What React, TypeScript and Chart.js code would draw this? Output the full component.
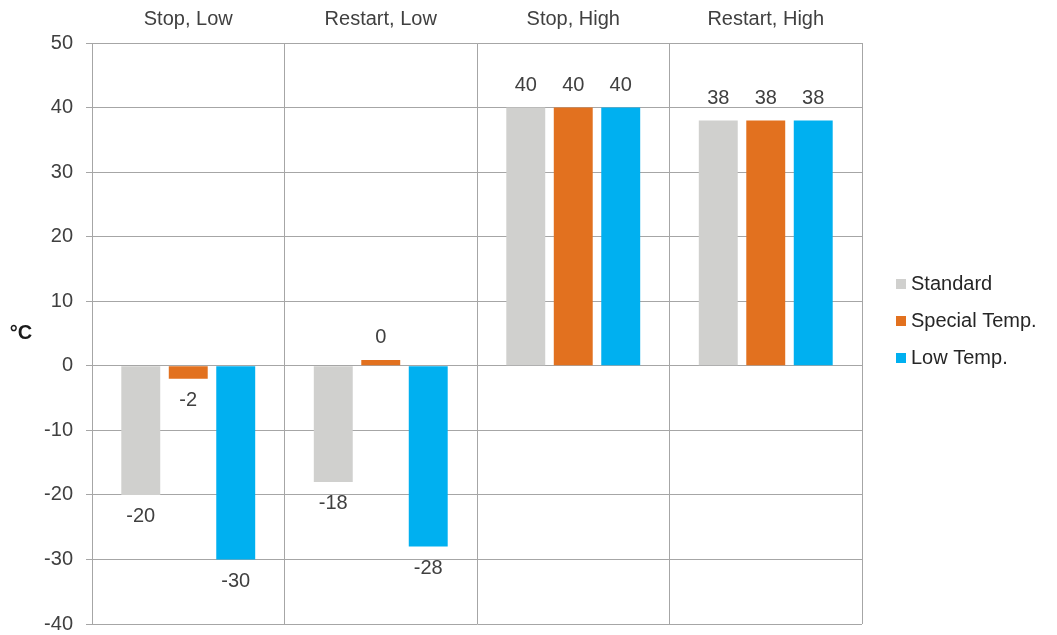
import React, { useEffect, useRef } from 'react';
import { Chart, registerables } from 'chart.js';

Chart.register(...registerables);

const categories = ['Stop, Low', 'Restart, Low', 'Stop, High', 'Restart, High'];
const seriesNames = ['Standard', 'Special Temp.', 'Low Temp.'];
const standardValues = [-20, -18, 40, 38];
const specialValues = [-2, 0.9, 40, 38];
const lowValues = [-30, -28, 40, 38];
const standardLabels = ['-20', '-18', '40', '38'];
const specialLabels = ['-2', '0', '40', '38'];
const lowLabels = ['-30', '-28', '40', '38'];
const yMin = -40;
const yMax = 50;
const yStep = 10;
const yTitle = '°C';
const seriesColors = ['#D0D0CE', '#E2711F', '#00B0F0'];

const FONT = "'Liberation Sans', Arial, sans-serif";
const TEXT = '#404040';
const GRID = '#A6A6A6';

const valueLabelPlugin = {
  id: 'valueLabels',
  afterDatasetsDraw(chart: any) {
    const ctx = chart.ctx;
    ctx.save();
    ctx.font = `20px ${FONT}`;
    ctx.fillStyle = TEXT;
    ctx.textAlign = 'center';
    ctx.textBaseline = 'middle';
    chart.data.datasets.forEach((ds: any, di: number) => {
      const meta = chart.getDatasetMeta(di);
      meta.data.forEach((el: any, i: number) => {
        const v = ds.data[i];
        const y = v >= 0 ? el.y - 22 : el.y + 22;
        ctx.fillText(ds.valueLabels[i], el.x, y);
      });
    });
    ctx.restore();
  },
};

const sideLegendPlugin = {
  id: 'sideLegend',
  afterDraw(chart: any) {
    const ctx = chart.ctx;
    ctx.save();
    ctx.font = `20px ${FONT}`;
    ctx.textAlign = 'left';
    ctx.textBaseline = 'middle';
    chart.data.datasets.forEach((ds: any, i: number) => {
      const cy = 284 + i * 37;
      ctx.fillStyle = ds.backgroundColor;
      ctx.fillRect(896, cy - 5, 10, 10);
      ctx.fillStyle = '#262626';
      ctx.fillText(ds.label, 911, cy);
    });
    const area = chart.chartArea;
    ctx.font = `bold 20px ${FONT}`;
    ctx.fillStyle = '#1a1a1a';
    ctx.textAlign = 'center';
    ctx.fillText(yTitle, 21, (area.top + area.bottom) / 2);
    ctx.restore();
  },
};

export default function App() {
  const ref = useRef<HTMLCanvasElement>(null);
  useEffect(() => {
    if (!ref.current) return;
    const chart = new Chart(ref.current, {
      type: 'bar',
      data: {
        labels: categories,
        datasets: [
          { label: seriesNames[0], data: standardValues, backgroundColor: seriesColors[0], valueLabels: standardLabels } as any,
          { label: seriesNames[1], data: specialValues, backgroundColor: seriesColors[1], valueLabels: specialLabels } as any,
          { label: seriesNames[2], data: lowValues, backgroundColor: seriesColors[2], valueLabels: lowLabels } as any,
        ],
      },
      options: {
        responsive: false,
        animation: false,
        layout: { padding: { top: 0, right: 195, bottom: 11, left: 0 } },
        datasets: { bar: { categoryPercentage: 0.74, barPercentage: 0.82 } },
        plugins: { legend: { display: false }, tooltip: { enabled: false } },
        scales: {
          x: {
            position: 'top',
            grid: { offset: true, color: GRID, drawTicks: false, lineWidth: 1 },
            border: { color: GRID },
            ticks: { font: { size: 20, family: FONT }, color: TEXT, padding: 12 },
            afterFit: (s: any) => { s.height = 43; s.paddingLeft = 0; s.paddingRight = 0; },
          },
          y: {
            min: yMin,
            max: yMax,
            ticks: { stepSize: yStep, font: { size: 20, family: FONT }, color: TEXT, padding: 13 },
            grid: { color: GRID, tickLength: 6, lineWidth: 1 },
            border: { color: GRID },
            afterFit: (s: any) => { s.width = 92; s.paddingTop = 0; s.paddingBottom = 0; },
          },
        },
      } as any,
      plugins: [valueLabelPlugin, sideLegendPlugin],
    });
    return () => chart.destroy();
  }, []);
  return (
    <div style={{ position: 'absolute', left: 0, top: 0, width: 1057, height: 635, background: '#fff' }}>
      <canvas ref={ref} width={1057} height={635} />
    </div>
  );
}
